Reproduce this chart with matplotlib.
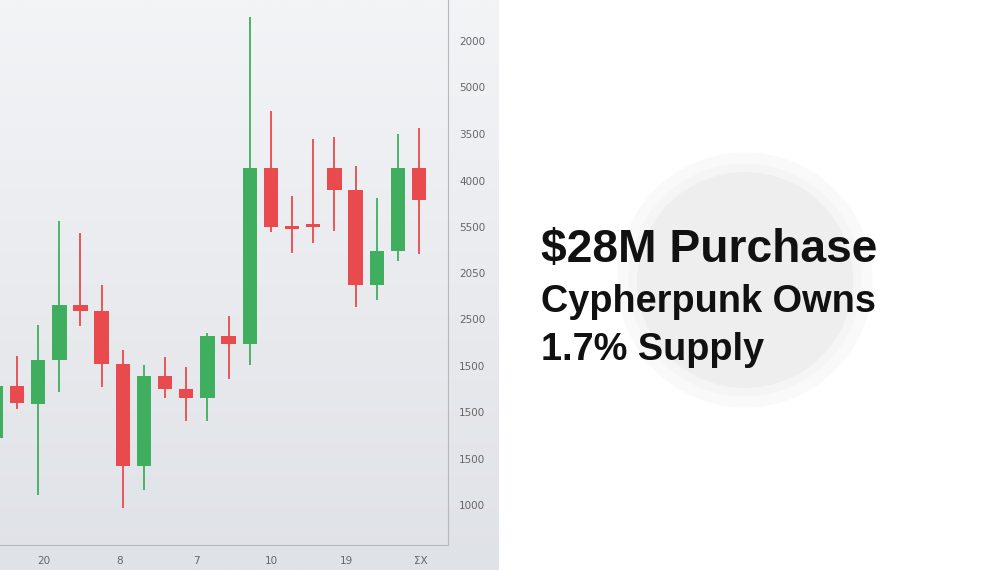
import matplotlib
matplotlib.use("Agg")
import matplotlib.pyplot as plt
import numpy as np
from matplotlib.patches import Circle

# candle data (price units, arbitrary scale)
idx    = [0, 1, 2, 3, 4, 5, 6, 7, 8, 9, 10, 11, 12, 13, 14, 15, 16, 17, 18, 19, 20]
opens  = [107, 159, 141, 185, 240, 234, 181, 79, 169, 156, 147, 209, 201, 377, 318, 319, 377, 355, 260, 294, 377]
closes = [159, 142, 185, 240, 234, 181, 79, 169, 156, 147, 209, 201, 377, 318, 316, 318, 355, 260, 294, 377, 345]
highs  = [175, 189, 220, 324, 312, 260, 195, 180, 188, 178, 212, 229, 528, 434, 349, 406, 408, 379, 347, 411, 417]
lows   = [95, 136, 50, 153, 219, 158, 37, 55, 147, 124, 124, 166, 180, 313, 292, 302, 314, 238, 245, 284, 291]
ytick_vals = [504, 458, 411, 364, 318, 272, 226, 179, 133, 86, 40]
ytick_labels = ["2000", "5000", "3500", "4000", "5500", "2050", "2500", "1500", "1500", "1500", "1000"]
xtick_vals = [2.28, 5.87, 9.46, 13.0, 16.55, 20.1]
xtick_labels = ["20", "8", "7", "10", "19", "ΣX"]

W, H = 997, 570
fig = plt.figure(figsize=(W/100, H/100), dpi=100)
fig.patch.set_facecolor("white")

bg = fig.add_axes([0, 0, 498/W, 1])
grad = np.linspace(0, 1, 256).reshape(-1, 1)
bg.imshow(grad, aspect="auto", cmap=matplotlib.colors.LinearSegmentedColormap.from_list("g", ["#f3f4f6", "#dfe2e7"]), extent=[0, 1, 0, 1])
bg.axis("off")

ax = fig.add_axes([0, 25/H, 448/W, 545/H])
ax.set_facecolor("none")
green, red = "#3fae5e", "#e94a4d"
for i, o, c, h, l in zip(idx, opens, closes, highs, lows):
    col = green if c >= o else red
    ax.vlines(i, l, h, color=col, lw=1.3, zorder=2)
    b = max(abs(c - o), 3)
    ax.bar(i, b, bottom=min(o, c), width=0.68, color=col, zorder=3)
ax.set_xlim(0.197, 21.37)
ax.set_ylim(0, 545)
ax.yaxis.tick_right()
ax.set_yticks(ytick_vals)
ax.set_yticklabels(ytick_labels)
ax.set_xticks(xtick_vals)
ax.set_xticklabels(xtick_labels)
ax.tick_params(colors="#666666", labelsize=7.5, length=0, pad=8)
for s in ["top", "left"]:
    ax.spines[s].set_visible(False)
ax.spines["right"].set_color("#b5b8bd")
ax.spines["bottom"].set_color("#b5b8bd")

ov = fig.add_axes([0, 0, 1, 1])
ov.set_xlim(0, W); ov.set_ylim(H, 0); ov.axis("off")
ov.add_patch(Circle((745, 280), 122, facecolor="#f5f5f5", edgecolor="#f9f9f9", lw=8))
ov.add_patch(Circle((745, 280), 108, facecolor="#eeeeee", edgecolor="none"))
ov.text(541, 250, "$28M Purchase", fontsize=33.2, fontweight="bold", color="#111111", va="center", family="Liberation Sans")
ov.text(541, 302, "Cypherpunk Owns", fontsize=27.3, fontweight="bold", color="#111111", va="center", family="Liberation Sans")
ov.text(541, 350, "1.7% Supply", fontsize=27.3, fontweight="bold", color="#111111", va="center", family="Liberation Sans")

fig.savefig("out.png", dpi=100)
